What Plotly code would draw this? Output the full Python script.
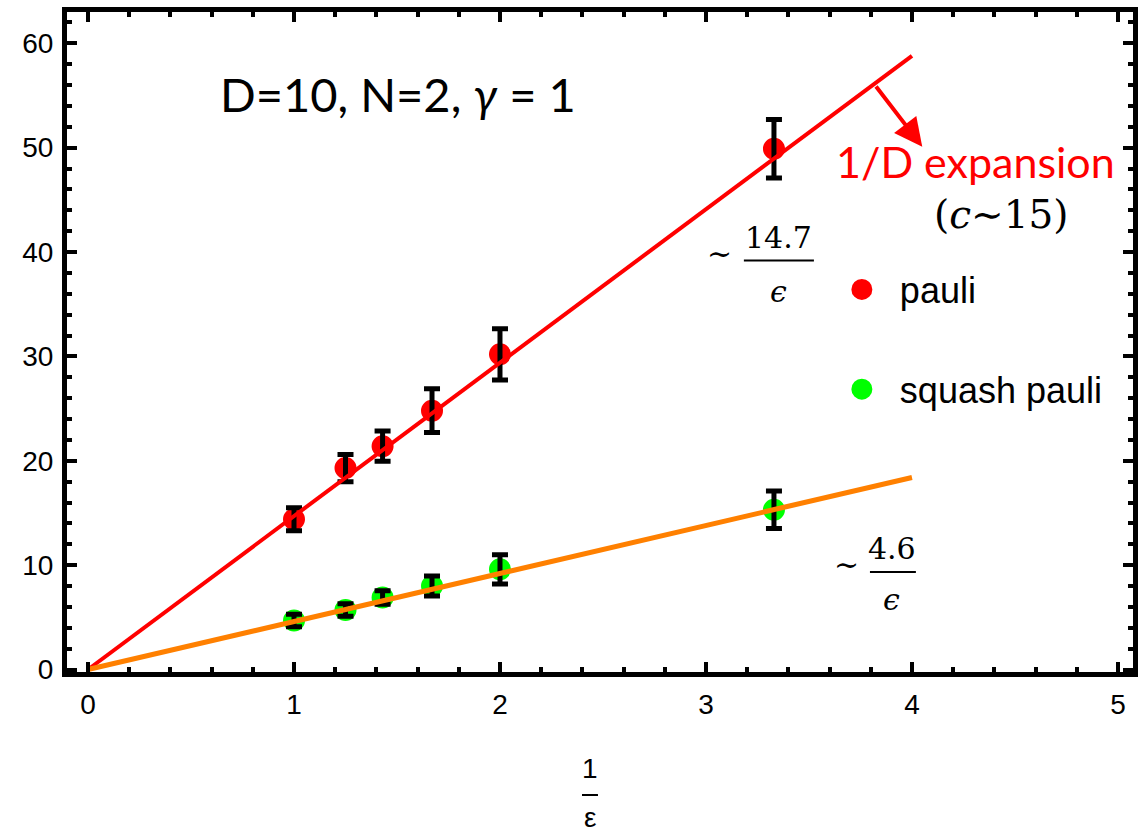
import plotly.graph_objects as go

# ---- data ----
inv_eps = [1.0, 1.25, 1.43, 1.67, 2.0, 3.33]
pauli_y = [14.4, 19.3, 21.4, 24.8, 30.2, 49.9]
pauli_err = [1.1, 1.3, 1.45, 2.1, 2.45, 2.8]
squash_y = [4.7, 5.7, 6.9, 8.0, 9.6, 15.3]
squash_err = [0.6, 0.6, 0.65, 0.95, 1.4, 1.8]
fit_x = [0.0, 4.0]
pauli_fit_y = [0.0, 58.8]
squash_fit_y = [0.0, 18.4]

x_ticks = [0, 1, 2, 3, 4, 5]
y_ticks = [0, 10, 20, 30, 40, 50, 60]

RED = "#FF0000"
GREEN = "#00FF00"
ORANGE = "#FF8000"
SANS = "Liberation Sans, Arial, sans-serif"
CAL = "Lato, Liberation Sans, sans-serif"
SERIF = "DejaVu Serif, serif"

fig = go.Figure()

# markers (with legend)
fig.add_trace(go.Scatter(x=inv_eps, y=pauli_y, mode="markers", name="pauli",
                         marker=dict(color=RED, size=17, line=dict(color=RED, width=5)),
                         legendgroup="a"))
fig.add_trace(go.Scatter(x=inv_eps, y=squash_y, mode="markers", name="squash pauli",
                         marker=dict(color=GREEN, size=17, line=dict(color=GREEN, width=5)),
                         legendgroup="b"))
# error bars on top of markers
for yv, ev in ((pauli_y, pauli_err), (squash_y, squash_err)):
    fig.add_trace(go.Scatter(x=inv_eps, y=yv, mode="markers", showlegend=False,
                             marker=dict(color="rgba(0,0,0,0)", size=1),
                             error_y=dict(type="data", array=ev, color="black",
                                          thickness=5, width=8),
                             hoverinfo="skip"))
# fit lines on top
fig.add_trace(go.Scatter(x=fit_x, y=pauli_fit_y, mode="lines", showlegend=False,
                         line=dict(color=RED, width=4)))
fig.add_trace(go.Scatter(x=fit_x, y=squash_fit_y, mode="lines", showlegend=False,
                         line=dict(color=ORANGE, width=5)))

axis_common = dict(showline=True, linewidth=5, linecolor="black", mirror="allticks",
                   ticks="inside", ticklen=10, tickwidth=4, tickcolor="black",
                   showgrid=False, zeroline=False, ticklabelstandoff=3,
                   tickfont=dict(family=SANS, size=28, color="black"))

fig.update_xaxes(range=[-0.102, 5.073], tickvals=x_ticks,
                 minor=dict(dtick=0.2, tick0=0, ticks="inside", ticklen=5, tickwidth=4,
                            tickcolor="black", showgrid=False),
                 **axis_common)
fig.update_yaxes(range=[-0.24, 63.0], tickvals=y_ticks,
                 minor=dict(dtick=2, tick0=0, ticks="inside", ticklen=5, tickwidth=4,
                            tickcolor="black", showgrid=False),
                 **axis_common)

ann = []
ann.append(dict(x=1.505, y=55.1, text="D=10, N=2, <i>γ</i> = 1", showarrow=False,
                font=dict(family=CAL, size=47, color="black")))
ann.append(dict(x=4.308, y=48.7, text="1/D expansion", showarrow=False,
                font=dict(family=CAL, size=43, color=RED)))
ann.append(dict(x=4.437, y=43.6, text="(<i>c</i>∼15)", showarrow=False,
                font=dict(family=SERIF, size=39, color="black")))
# arrow
ann.append(dict(x=4.05, y=50.1, ax=3.82, ay=56.0, axref="x", ayref="y", xref="x", yref="y",
                text="", showarrow=True, arrowhead=2, arrowsize=1.4, arrowwidth=4,
                arrowcolor=RED))
# ~ 14.7/eps
ann.append(dict(x=3.068, y=39.9, text="∼", showarrow=False,
                font=dict(family=SERIF, size=30, color="black")))
ann.append(dict(x=3.354, y=41.4, text="14.7", showarrow=False,
                font=dict(family=SERIF, size=30, color="black")))
ann.append(dict(x=3.354, y=36.2, text="<i>ϵ</i>", showarrow=False,
                font=dict(family=SERIF, size=30, color="black")))
# ~ 4.6/eps
ann.append(dict(x=3.680, y=10.1, text="∼", showarrow=False,
                font=dict(family=SERIF, size=30, color="black")))
ann.append(dict(x=3.903, y=11.55, text="4.6", showarrow=False,
                font=dict(family=SERIF, size=30, color="black")))
ann.append(dict(x=3.903, y=6.66, text="<i>ϵ</i>", showarrow=False,
                font=dict(family=SERIF, size=30, color="black")))
# x axis label 1 / eps
ann.append(dict(x=0.4906, y=-0.1455, xref="paper", yref="paper", text="1", showarrow=False,
                xanchor="center", yanchor="middle",
                font=dict(family=SANS, size=28, color="black")))
ann.append(dict(x=0.4906, y=-0.2212, xref="paper", yref="paper", text="ε", showarrow=False,
                xanchor="center", yanchor="middle",
                font=dict(family=SANS, size=28, color="black")))

shapes = [
    dict(type="line", xref="x", yref="y", x0=3.184, x1=3.524, y0=39.2, y1=39.2,
         line=dict(color="black", width=2)),
    dict(type="line", xref="x", yref="y", x0=3.796, x1=4.019, y0=9.34, y1=9.34,
         line=dict(color="black", width=2)),
    dict(type="line", xref="paper", yref="paper", x0=0.4831, x1=0.4981, y0=-0.1864, y1=-0.1864,
         line=dict(color="black", width=2)),
]

fig.update_layout(
    width=1139, height=839,
    margin=dict(l=67, r=6, t=12, b=167, autoexpand=False),
    paper_bgcolor="white", plot_bgcolor="white",
    annotations=ann, shapes=shapes,
    showlegend=True,
    legend=dict(x=0.710, y=0.625, xanchor="left", yanchor="top",
                font=dict(family=SANS, size=36, color="black"),
                bgcolor="rgba(0,0,0,0)", borderwidth=0, itemwidth=66,
                traceorder="grouped", tracegroupgap=50, itemsizing="trace"),
)

fig.write_html("out.html")
